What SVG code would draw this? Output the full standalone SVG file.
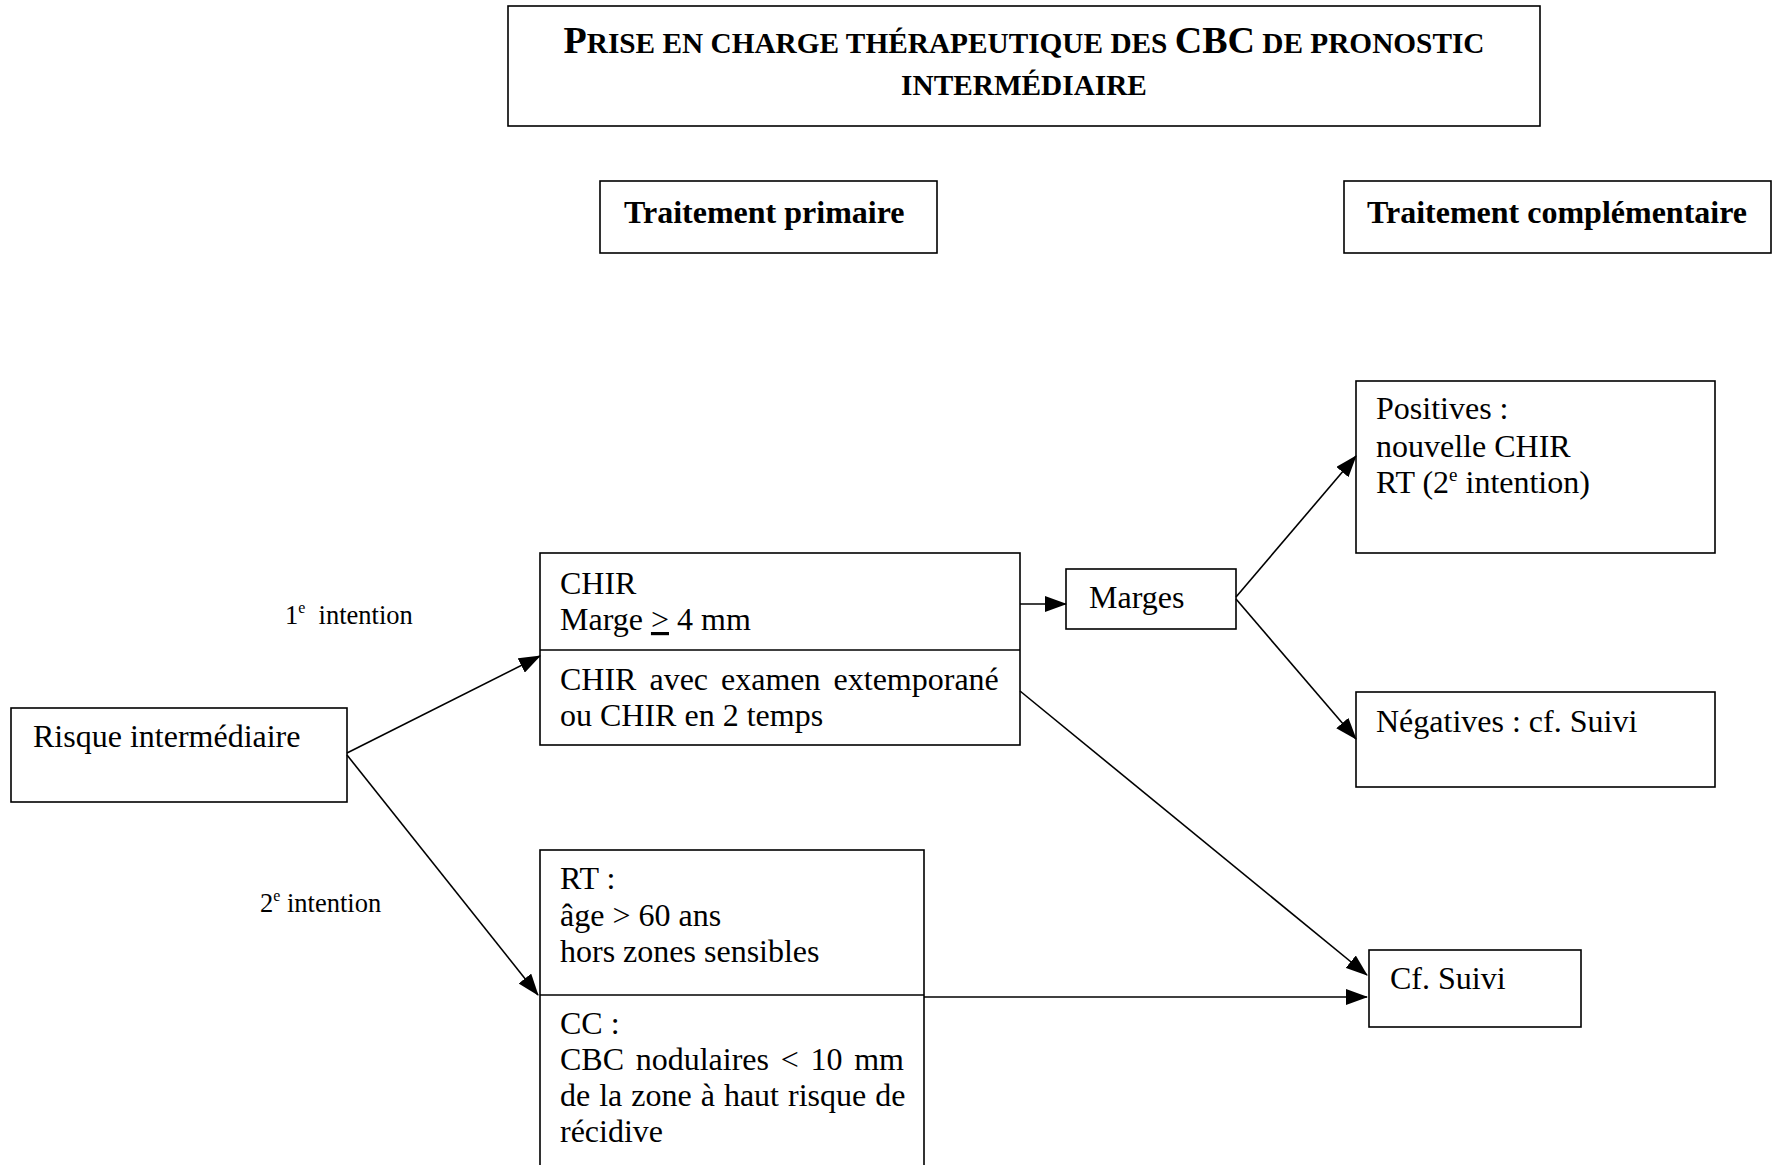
<svg xmlns="http://www.w3.org/2000/svg" width="1773" height="1165" viewBox="0 0 1773 1165">
<defs>
<style>
.box{fill:#fff;stroke:#000;stroke-width:1.6}
.t{font-family:"Liberation Serif","Times New Roman",serif;font-size:32px;fill:#000}
.b{font-family:"Liberation Serif","Times New Roman",serif;font-weight:bold;fill:#000}
.s{font-family:"Liberation Serif","Times New Roman",serif;font-size:26.5px;fill:#000}
.c{fill:none;stroke:#000;stroke-width:1.6}
</style>
<marker id="ah" markerUnits="userSpaceOnUse" markerWidth="22" markerHeight="16" refX="21" refY="8" orient="auto">
<path d="M0,0 L22,8 L0,16 z" fill="#000"/>
</marker>
</defs>
<rect width="1773" height="1165" fill="#fff"/>

<g id="title">
<rect class="box" x="508" y="6" width="1032" height="120"/>
<text class="b" x="1024" y="53" text-anchor="middle" font-size="29.3"><tspan font-size="38">P</tspan>RISE EN CHARGE THÉRAPEUTIQUE DES <tspan font-size="38">CBC</tspan> DE PRONOSTIC</text>
<text class="b" x="1024" y="95" text-anchor="middle" font-size="29.3">INTERMÉDIAIRE</text>
</g>

<g id="hdr-primaire">
<rect class="box" x="600" y="181" width="337" height="72"/>
<text class="b" x="624" y="223" font-size="32">Traitement primaire</text>
</g>

<g id="hdr-complementaire">
<rect class="box" x="1344" y="181" width="427" height="72"/>
<text class="b" x="1367" y="223" font-size="32">Traitement complémentaire</text>
</g>

<g id="risque">
<rect class="box" x="11" y="708" width="336" height="94"/>
<text class="t" x="33" y="747">Risque intermédiaire</text>
</g>

<g id="label-1e">
<text class="s" x="285" y="624">1<tspan font-size="16" dy="-11">e</tspan><tspan dy="11">&#160; intention</tspan></text>
</g>
<g id="label-2e">
<text class="s" x="260" y="912">2<tspan font-size="16" dy="-11">e</tspan><tspan dy="11"> intention</tspan></text>
</g>

<g id="chir">
<rect class="box" x="540" y="553" width="480" height="192"/>
<line class="c" x1="540" y1="650" x2="1020" y2="650"/>
<text class="t" x="560" y="594">CHIR</text>
<text class="t" x="560" y="630">Marge <tspan text-decoration="underline">&gt;</tspan> 4 mm</text>
<text class="t" x="560" y="690" word-spacing="5">CHIR avec examen extemporané</text>
<text class="t" x="560" y="726">ou CHIR en 2 temps</text>
</g>

<g id="rtcc">
<rect class="box" x="540" y="850" width="384" height="330"/>
<line class="c" x1="540" y1="995" x2="924" y2="995"/>
<text class="t" x="560" y="889">RT :</text>
<text class="t" x="560" y="926">âge &gt; 60 ans</text>
<text class="t" x="560" y="962">hors zones sensibles</text>
<text class="t" x="560" y="1034">CC :</text>
<text class="t" x="560" y="1070" word-spacing="3.7">CBC nodulaires &lt; 10 mm</text>
<text class="t" x="560" y="1106" word-spacing="1">de la zone à haut risque de</text>
<text class="t" x="560" y="1142">récidive</text>
</g>

<g id="marges">
<rect class="box" x="1066" y="569" width="170" height="60"/>
<text class="t" x="1089" y="608">Marges</text>
</g>

<g id="positives">
<rect class="box" x="1356" y="381" width="359" height="172"/>
<text class="t" x="1376" y="419">Positives :</text>
<text class="t" x="1376" y="457">nouvelle CHIR</text>
<text class="t" x="1376" y="493">RT (2<tspan font-size="19" dy="-12">e</tspan><tspan dy="12"> intention)</tspan></text>
</g>

<g id="negatives">
<rect class="box" x="1356" y="692" width="359" height="95"/>
<text class="t" x="1376" y="732">Négatives : cf. Suivi</text>
</g>

<g id="suivi">
<rect class="box" x="1369" y="950" width="212" height="77"/>
<text class="t" x="1390" y="989">Cf. Suivi</text>
</g>

<g id="connectors">
<line class="c" x1="347" y1="753" x2="540" y2="656" marker-end="url(#ah)"/>
<line class="c" x1="347" y1="755" x2="538" y2="995" marker-end="url(#ah)"/>
<line class="c" x1="1020" y1="604" x2="1066" y2="604" marker-end="url(#ah)"/>
<line class="c" x1="1236" y1="597" x2="1356" y2="456" marker-end="url(#ah)"/>
<line class="c" x1="1236" y1="599" x2="1356" y2="739" marker-end="url(#ah)"/>
<line class="c" x1="1020" y1="691" x2="1367" y2="975" marker-end="url(#ah)"/>
<line class="c" x1="924" y1="997" x2="1367" y2="997" marker-end="url(#ah)"/>
</g>
</svg>
